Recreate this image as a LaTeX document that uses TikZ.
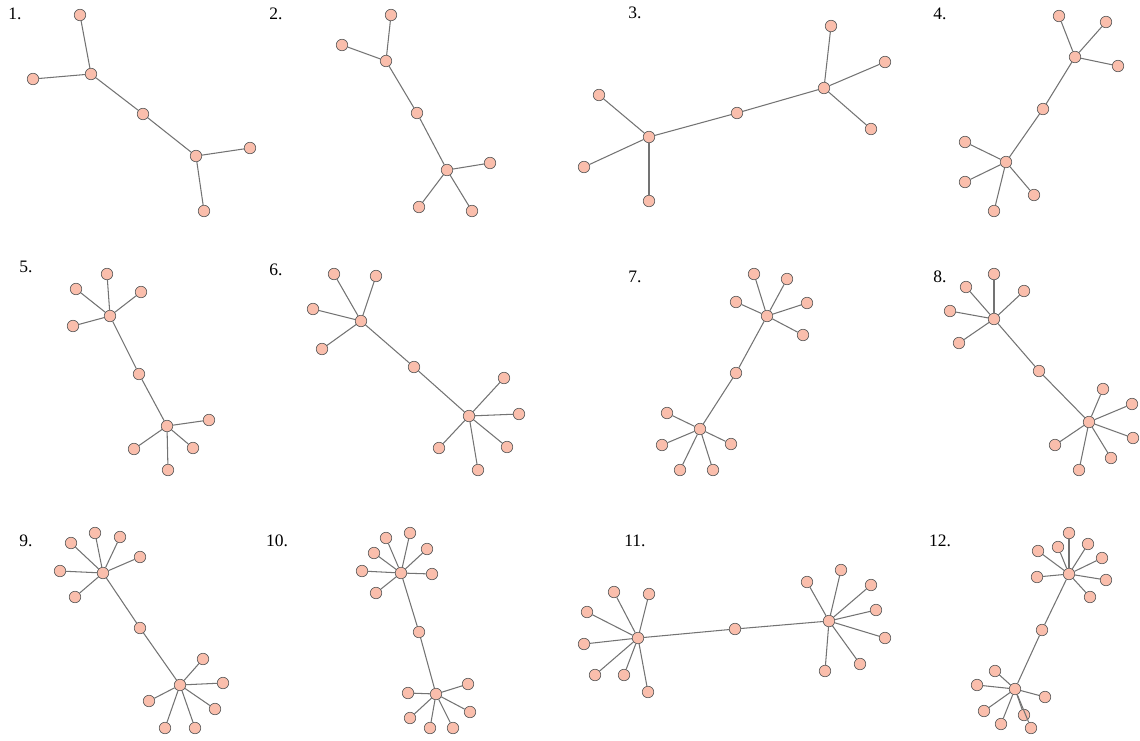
\documentclass[tikz,border=0pt]{standalone}
\usepackage{fontspec}
\setmainfont{Liberation Serif}
\usepackage{tikz}
\usepackage{xcolor}
\definecolor{vertexpink}{RGB}{250,190,172}
\definecolor{linkgray}{RGB}{115,115,115}

\tikzset{
    vtx/.style={circle, draw=black!65, line width=0.65pt, fill=vertexpink, inner sep=0pt, minimum size=11.5pt},
    link/.style={linkgray, line width=1.05pt},
    numlabel/.style={font=\fontsize{17.5}{20}\selectfont, inner sep=0pt}
}

\begin{document}
\begin{tikzpicture}[x=1pt, y=-1pt]
    \useasboundingbox (0,0) rectangle (1140,740);

    % 1.
    \node[numlabel] (lab1) at (15,14) {1.};
    \node[vtx] (h1a) at (91,74) {};
    \node[vtx] (m1) at (143,114) {};
    \node[vtx] (h1b) at (196,156) {};
    \draw[link] (h1a) -- (m1) -- (h1b);
    \foreach \x/\y [count=\i] in {80/15, 33/79} {\node[vtx] (l1a\i) at (\x,\y) {}; \draw[link] (h1a) -- (l1a\i);}
    \foreach \x/\y [count=\i] in {250/148, 204/211} {\node[vtx] (l1b\i) at (\x,\y) {}; \draw[link] (h1b) -- (l1b\i);}

    % 2.
    \node[numlabel] (lab2) at (276,14) {2.};
    \node[vtx] (h2a) at (386,61) {};
    \node[vtx] (m2) at (417,113) {};
    \node[vtx] (h2b) at (447,170) {};
    \draw[link] (h2a) -- (m2) -- (h2b);
    \foreach \x/\y [count=\i] in {391/15, 342/45} {\node[vtx] (l2a\i) at (\x,\y) {}; \draw[link] (h2a) -- (l2a\i);}
    \foreach \x/\y [count=\i] in {490/163, 419/207, 472/211} {\node[vtx] (l2b\i) at (\x,\y) {}; \draw[link] (h2b) -- (l2b\i);}

    % 3.
    \node[numlabel] (lab3) at (635,13) {3.};
    \node[vtx] (h3a) at (649,137) {};
    \node[vtx] (m3) at (737,113) {};
    \node[vtx] (h3b) at (824,88) {};
    \draw[link] (h3a) -- (m3) -- (h3b);
    \foreach \x/\y [count=\i] in {599/95, 584/167, 649/201} {\node[vtx] (l3a\i) at (\x,\y) {}; \draw[link] (h3a) -- (l3a\i);}
    \foreach \x/\y [count=\i] in {831/26, 885/62, 871/129} {\node[vtx] (l3b\i) at (\x,\y) {}; \draw[link] (h3b) -- (l3b\i);}

    % 4.
    \node[numlabel] (lab4) at (940,14) {4.};
    \node[vtx] (h4a) at (1075,57) {};
    \node[vtx] (m4) at (1043,109) {};
    \node[vtx] (h4b) at (1006,162) {};
    \draw[link] (h4a) -- (m4) -- (h4b);
    \foreach \x/\y [count=\i] in {1059/16, 1106/22, 1118/66} {\node[vtx] (l4a\i) at (\x,\y) {}; \draw[link] (h4a) -- (l4a\i);}
    \foreach \x/\y [count=\i] in {965/142, 965/182, 1034/195, 994/211} {\node[vtx] (l4b\i) at (\x,\y) {}; \draw[link] (h4b) -- (l4b\i);}

    % 5.
    \node[numlabel] (lab5) at (26,267) {5.};
    \node[vtx] (h5a) at (110,316) {};
    \node[vtx] (m5) at (139,374) {};
    \node[vtx] (h5b) at (167,426) {};
    \draw[link] (h5a) -- (m5) -- (h5b);
    \foreach \x/\y [count=\i] in {107/274, 76/289, 141/292, 73/326} {\node[vtx] (l5a\i) at (\x,\y) {}; \draw[link] (h5a) -- (l5a\i);}
    \foreach \x/\y [count=\i] in {209/420, 134/449, 193/448, 168/470} {\node[vtx] (l5b\i) at (\x,\y) {}; \draw[link] (h5b) -- (l5b\i);}

    % 6.
    \node[numlabel] (lab6) at (276,270) {6.};
    \node[vtx] (h6a) at (361,321) {};
    \node[vtx] (m6) at (414,367) {};
    \node[vtx] (h6b) at (469,416) {};
    \draw[link] (h6a) -- (m6) -- (h6b);
    \foreach \x/\y [count=\i] in {334/274, 376/276, 313/309, 322/349} {\node[vtx] (l6a\i) at (\x,\y) {}; \draw[link] (h6a) -- (l6a\i);}
    \foreach \x/\y [count=\i] in {504/378, 519/414, 439/448, 507/447, 478/470} {\node[vtx] (l6b\i) at (\x,\y) {}; \draw[link] (h6b) -- (l6b\i);}

    % 7.
    \node[numlabel] (lab7) at (635,277) {7.};
    \node[vtx] (h7a) at (767,316) {};
    \node[vtx] (m7) at (736,373) {};
    \node[vtx] (h7b) at (700,429) {};
    \draw[link] (h7a) -- (m7) -- (h7b);
    \foreach \x/\y [count=\i] in {754/274, 787/279, 736/302, 807/303, 803/335} {\node[vtx] (l7a\i) at (\x,\y) {}; \draw[link] (h7a) -- (l7a\i);}
    \foreach \x/\y [count=\i] in {667/413, 662/445, 731/444, 680/470, 713/470} {\node[vtx] (l7b\i) at (\x,\y) {}; \draw[link] (h7b) -- (l7b\i);}

    % 8.
    \node[numlabel] (lab8) at (940,277) {8.};
    \node[vtx] (h8a) at (994,319) {};
    \node[vtx] (m8) at (1039,371) {};
    \node[vtx] (h8b) at (1089,422) {};
    \draw[link] (h8a) -- (m8) -- (h8b);
    \foreach \x/\y [count=\i] in {994/274, 966/287, 1024/291, 950/311, 959/343} {\node[vtx] (l8a\i) at (\x,\y) {}; \draw[link] (h8a) -- (l8a\i);}
    \foreach \x/\y [count=\i] in {1103/389, 1132/404, 1133/438, 1055/445, 1111/458, 1079/470} {\node[vtx] (l8b\i) at (\x,\y) {}; \draw[link] (h8b) -- (l8b\i);}

    % 9.
    \node[numlabel] (lab9) at (26,541) {9.};
    \node[vtx] (h9a) at (103,573) {};
    \node[vtx] (m9) at (140,628) {};
    \node[vtx] (h9b) at (180,685) {};
    \draw[link] (h9a) -- (m9) -- (h9b);
    \foreach \x/\y [count=\i] in {95/533, 71/543, 120/537, 140/557, 60/571, 75/597} {\node[vtx] (l9a\i) at (\x,\y) {}; \draw[link] (h9a) -- (l9a\i);}
    \foreach \x/\y [count=\i] in {203/659, 223/683, 149/701, 215/709, 165/728, 195/728} {\node[vtx] (l9b\i) at (\x,\y) {}; \draw[link] (h9b) -- (l9b\i);}

    % 10.
    \node[numlabel] (lab10) at (277,541) {10.};
    \node[vtx] (h10a) at (401,573) {};
    \node[vtx] (m10) at (419,632) {};
    \node[vtx] (h10b) at (436,694) {};
    \draw[link] (h10a) -- (m10) -- (h10b);
    \foreach \x/\y [count=\i] in {410/533, 386/538, 374/553, 427/549, 362/571, 432/574, 376/593} {\node[vtx] (l10a\i) at (\x,\y) {}; \draw[link] (h10a) -- (l10a\i);}
    \foreach \x/\y [count=\i] in {408/693, 468/684, 470/712, 410/718, 430/728, 453/728} {\node[vtx] (l10b\i) at (\x,\y) {}; \draw[link] (h10b) -- (l10b\i);}

    % 11.
    \node[numlabel] (lab11) at (635,541) {11.};
    \node[vtx] (h11a) at (638,638) {};
    \node[vtx] (m11) at (735,629) {};
    \node[vtx] (h11b) at (829,621) {};
    \draw[link] (h11a) -- (m11) -- (h11b);
    \foreach \x/\y [count=\i] in {614/592, 649/594, 587/612, 584/644, 595/675, 624/675, 648/692} {\node[vtx] (l11a\i) at (\x,\y) {}; \draw[link] (h11a) -- (l11a\i);}
    \foreach \x/\y [count=\i] in {841/570, 807/582, 871/585, 876/610, 885/638, 860/664, 825/671} {\node[vtx] (l11b\i) at (\x,\y) {}; \draw[link] (h11b) -- (l11b\i);}

    % 12.
    \node[numlabel] (lab12) at (940,541) {12.};
    \node[vtx] (h12a) at (1069,574) {};
    \node[vtx] (m12) at (1042,630) {};
    \node[vtx] (h12b) at (1015,689) {};
    \draw[link] (h12a) -- (m12) -- (h12b);
    \foreach \x/\y [count=\i] in {1069/533, 1058/547, 1038/551, 1088/544, 1102/558, 1037/577, 1106/580, 1090/597} {\node[vtx] (l12a\i) at (\x,\y) {}; \draw[link] (h12a) -- (l12a\i);}
    \foreach \x/\y [count=\i] in {995/671, 977/685, 1045/697, 984/711, 1024/715, 1001/724, 1031/728} {\node[vtx] (l12b\i) at (\x,\y) {}; \draw[link] (h12b) -- (l12b\i);}
\end{tikzpicture}
\end{document}
